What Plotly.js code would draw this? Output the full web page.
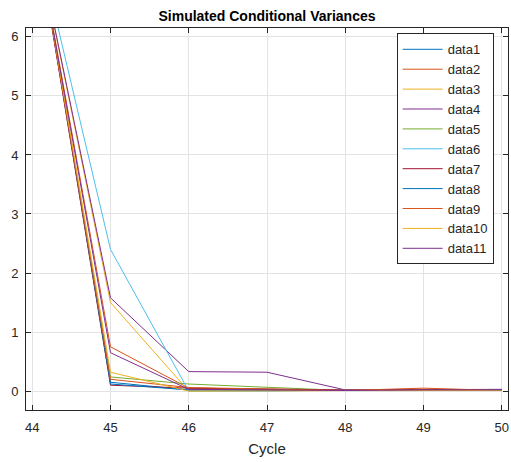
<!DOCTYPE html>
<html>
<head>
<meta charset="utf-8">
<script src="https://cdn.plot.ly/plotly-3.0.1.min.js"></script>
<style>html,body{margin:0;padding:0;background:#fff;}#chart{width:511px;height:462px;}</style>
</head>
<body>
<div id="chart"></div>
<script>
const cycles = [44, 45, 46, 47, 48, 49, 50];
const data1  = [8.2, 0.15, 0.02, 0.01, 0.01, 0.02, 0.02];
const data2  = [8.1, 0.75, 0.05, 0.03, 0.01, 0.03, 0.02];
const data3  = [8.0, 1.50, 0.00, 0.01, 0.01, 0.01, 0.01];
const data4  = [8.0, 1.58, 0.33, 0.32, 0.02, 0.02, 0.03];
const data5  = [8.2, 0.24, 0.12, 0.07, 0.01, 0.02, 0.02];
const data6  = [8.0, 2.40, 0.00, 0.00, 0.02, 0.01, 0.02];
const data7  = [8.2, 0.10, 0.05, 0.03, 0.02, 0.02, 0.02];
const data8  = [8.3, 0.12, 0.02, 0.01, 0.01, 0.01, 0.02];
const data9  = [8.2, 0.20, 0.06, 0.04, 0.01, 0.05, 0.01];
const data10 = [8.2, 0.32, 0.00, 0.01, 0.01, 0.01, 0.01];
const data11 = [8.1, 0.65, 0.03, 0.02, 0.01, 0.02, 0.02];
const seriesNames = ['data1','data2','data3','data4','data5','data6','data7','data8','data9','data10','data11'];
const seriesValues = [data1,data2,data3,data4,data5,data6,data7,data8,data9,data10,data11];
const colors = ['#0072BD','#D95319','#EDB120','#7E2F8E','#77AC30','#4DBEEE','#A2142F','#0072BD','#D95319','#EDB120','#7E2F8E'];

const traces = seriesValues.map((v, i) => ({
  x: cycles, y: v, name: seriesNames[i], type: 'scatter', mode: 'lines',
  line: {color: colors[i], width: 1}
}));

const font = {family: '"Liberation Sans", Arial, Helvetica, sans-serif', color: '#262626', size: 13};
const axisCommon = {
  showline: true, linecolor: '#262626', linewidth: 1, mirror: 'ticks',
  ticks: 'inside', ticklen: 5, tickcolor: '#262626', tickwidth: 1,
  showgrid: true, gridcolor: '#e3e3e3', gridwidth: 1, zeroline: false,
  tickfont: {family: font.family, size: 13, color: '#262626'}
};

const layout = {
  width: 511, height: 462,
  margin: {l: 26, r: 3, t: 28, b: 52},
  paper_bgcolor: '#fff', plot_bgcolor: '#fff',
  font: font,
  showlegend: true,
  title: {text: '<b>Simulated Conditional Variances</b>', font: {family: font.family, size: 14, color: '#000'}, x: 0.5, xanchor: 'center', xref: 'paper', y: 1, yref: 'paper', yanchor: 'bottom', pad: {b: 7}},
  xaxis: Object.assign({}, axisCommon, {
    range: [43.92, 50.08], tickvals: [44,45,46,47,48,49,50], ticklabelstandoff: 5,
    title: {text: 'Cycle', font: {family: font.family, size: 15, color: '#262626'}, standoff: 9}
  }),
  yaxis: Object.assign({}, axisCommon, {
    range: [-0.32, 6.15], tickvals: [0,1,2,3,4,5,6], ticklabelstandoff: 4
  }),
  legend: {
    x: 0.769, y: 0.986, xanchor: 'left', yanchor: 'top',
    bgcolor: '#fff', bordercolor: '#262626', borderwidth: 1,
    font: {family: font.family, size: 13, color: '#262626'},
    itemwidth: 40,
    tracegroupgap: 0
  }
};

Plotly.newPlot('chart', traces, layout, {displayModeBar: false, staticPlot: true});
</script>
</body>
</html>
